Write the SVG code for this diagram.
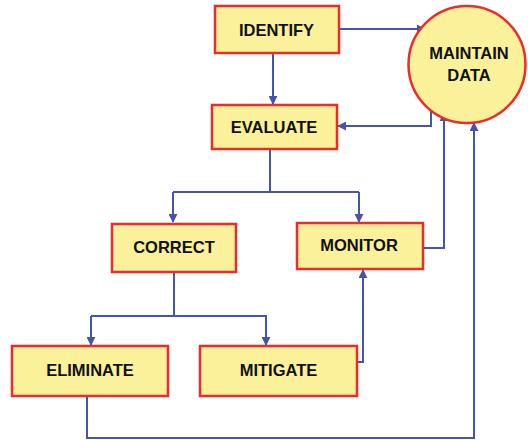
<svg xmlns="http://www.w3.org/2000/svg" width="528" height="440" viewBox="0 0 528 440">
<style>
.box{fill:#FBF19A;stroke:#EE2B2B;stroke-width:2.5}
.lbl{font-family:"Liberation Sans",Arial,sans-serif;font-weight:bold;font-size:16.5px;fill:#111;text-anchor:middle;dominant-baseline:central}
.c{fill:none;stroke:#4355AE;stroke-width:2;marker-end:url(#ah)}
.n{fill:none;stroke:#4355AE;stroke-width:2}
</style>
<defs>
<marker id="ah" viewBox="0 0 10 10" refX="9" refY="5" markerWidth="4.5" markerHeight="4.5" orient="auto" markerUnits="strokeWidth">
<path d="M0,0 L10,5 L0,10 z" fill="#4355AE"/>
</marker>
</defs>
<rect width="528" height="440" fill="#fff"/>
<g id="connectors">
<path class="c" d="M339,29 H425"/>
<path class="c" d="M273,53 V104"/>
<path class="c" d="M431,110 V126 H338"/>
<path class="n" d="M270,149 V192"/>
<path class="c" d="M173,192 H359 M173,192 V222"/>
<path class="c" d="M359,192 V222"/>
<path class="c" d="M423,248 H444 V113"/>
<path class="n" d="M174,272 V316"/>
<path class="c" d="M91,316 V345"/>
<path class="c" d="M91,316 H266 V345"/>
<path class="c" d="M357,362 H363 V270"/>
<path class="c" d="M87,396 V438 H474 V123"/>
</g>
<g id="identify"><rect class="box" x="215" y="6" width="124" height="47"/><text class="lbl" x="276.5" y="29.5">IDENTIFY</text></g>
<g id="evaluate"><rect class="box" x="212" y="105" width="125" height="44"/><text class="lbl" x="274" y="126.5">EVALUATE</text></g>
<g id="maintain"><circle class="box" cx="467" cy="64.5" r="58.5"/><text class="lbl" x="469" y="53">MAINTAIN</text><text class="lbl" x="469" y="75">DATA</text></g>
<g id="correct"><rect class="box" x="112" y="224" width="124" height="48"/><text class="lbl" x="174" y="247">CORRECT</text></g>
<g id="monitor"><rect class="box" x="297" y="223" width="126" height="46"/><text class="lbl" x="359" y="245">MONITOR</text></g>
<g id="eliminate"><rect class="box" x="12" y="346" width="156" height="50"/><text class="lbl" x="90" y="370">ELIMINATE</text></g>
<g id="mitigate"><rect class="box" x="200" y="346" width="157" height="50"/><text class="lbl" x="278.5" y="370">MITIGATE</text></g>
</svg>
